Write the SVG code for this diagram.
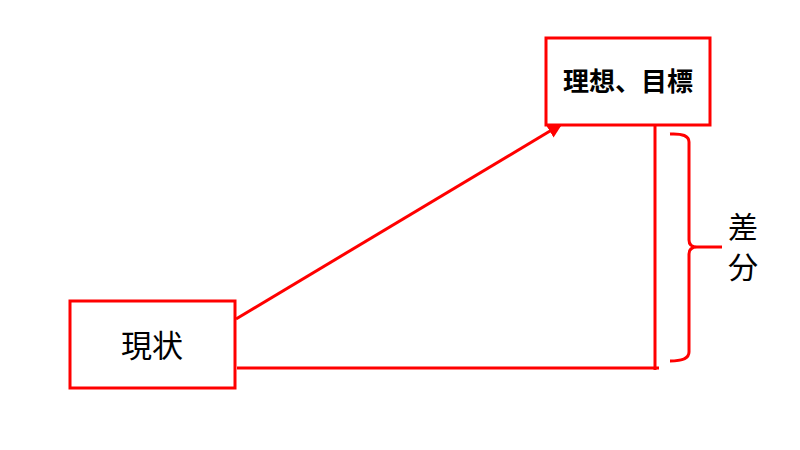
<svg xmlns="http://www.w3.org/2000/svg" width="800" height="450" viewBox="0 0 800 450">
<defs>
<style>
.box{fill:#fff;stroke:#f00;stroke-width:3}
.ln{stroke:#f00;stroke-width:3;fill:none}
.t{font-family:"Liberation Sans","Noto Sans CJK JP",sans-serif;fill:#000;text-anchor:middle}
</style>
<marker id="ah" markerWidth="5" markerHeight="5" refX="4" refY="2.5" orient="auto" markerUnits="strokeWidth">
<path d="M0,0 L5,2.5 L0,5 z" fill="#f00"/>
</marker>
</defs>
<rect width="800" height="450" fill="#fff"/>
<g id="connectors">
<line class="ln" x1="236" y1="319" x2="560" y2="125" marker-end="url(#ah)"/>
<line class="ln" x1="237" y1="368" x2="659" y2="368"/>
<line class="ln" x1="655" y1="125" x2="655" y2="370"/>
<path class="ln" stroke-width="2.5" d="M670,134 Q689,133 689,142 L689,240 Q689,247 697,247 L722,247 M697,247 Q689,247 689,254 L689,352 Q689,361 670,361"/>
</g>
<g id="ideal">
<rect class="box" x="546" y="38" width="164" height="87"/>
<text class="t" x="628" y="91" font-size="26" font-weight="bold">理想、目標</text>
</g>
<g id="current">
<rect class="box" x="70" y="301" width="165" height="87"/>
<text class="t" x="152" y="357" font-size="31">現状</text>
</g>
<g id="diff">
<text class="t" x="743" y="238" font-size="30">差</text>
<text class="t" x="743" y="278" font-size="30">分</text>
</g>
</svg>
